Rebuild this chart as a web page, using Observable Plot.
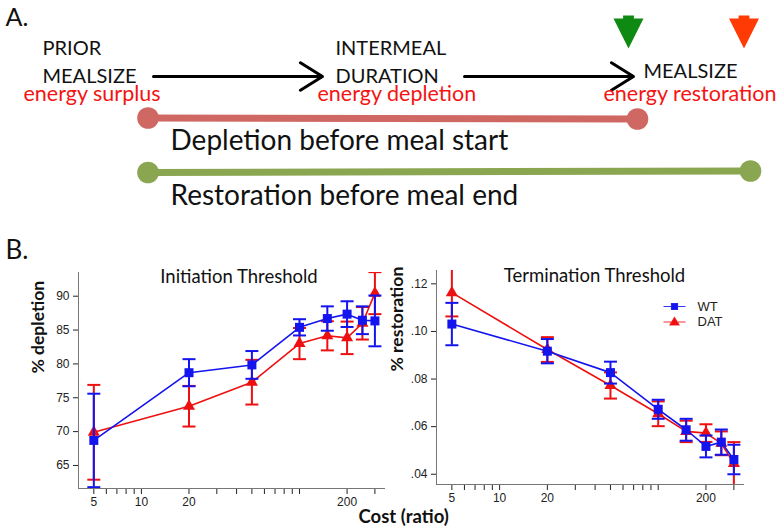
<!DOCTYPE html>
<html><head><meta charset="utf-8">
<script src="https://cdn.jsdelivr.net/npm/d3@7"></script>
<script src="https://cdn.jsdelivr.net/npm/@observablehq/plot@0.6"></script>
<style>
html,body{margin:0;padding:0;background:#fff;}
#root{position:relative;width:784px;height:532px;overflow:hidden;background:#fff;}
#root > div{position:absolute;}
</style></head><body>
<div id="root"><div id="diagram" style="left:0;top:0"></div><div id="left" style="left:0;top:230px"></div><div id="right" style="left:390px;top:230px"></div></div>
<script>
// ---------- data ----------
const cost = [5, 20, 50, 100, 150, 200, 250, 300];
const groups = ["WT", "DAT"];
const depletionWT     = [68.7, 78.7, 79.85, 85.4, 86.7, 87.35, 86.45, 86.35];
const depletionWTerr  = [6.9, 2.0, 2.05, 1.2, 1.8, 1.9, 2.05, 3.75];
const depletionDAT    = [69.9, 73.75, 77.3, 83.0, 84.15, 83.85, 86.0, 90.45];
const depletionDATerr = [7.0, 3.0, 3.3, 2.3, 2.15, 2.4, 2.4, 3.1];
const restorationWT     = [0.1031, 0.0917, 0.0827, 0.0673, 0.0587, 0.0517, 0.0535, 0.0462];
const restorationWTerr  = [0.0089, 0.0051, 0.0046, 0.0040, 0.0046, 0.0046, 0.0053, 0.0062];
const restorationDAT    = [0.1163, 0.0924, 0.0773, 0.0654, 0.0580, 0.0573, 0.0530, 0.0445];
const restorationDATerr = [0.0100, 0.0052, 0.0055, 0.0052, 0.0045, 0.0037, 0.0050, 0.0090];
const xTicks = [5, 6, 7, 8, 9, 10, 20, 30, 40, 50, 60, 70, 80, 90, 100, 200, 300];
const xTickLabels = [5, 10, 20, 200];
const depletionTicks = [65, 70, 75, 80, 85, 90];
const restorationTicks = [0.04, 0.06, 0.08, 0.10, 0.12];
const panelTitles = ["Initiation Threshold", "Termination Threshold"];
const yLabels = ["% depletion", "% restoration"];
const xLabel = "Cost (ratio)";
const panelLetters = ["A.", "B."];

const stageLabels = ["PRIOR\nMEALSIZE", "INTERMEAL\nDURATION", "MEALSIZE"];
const energyLabels = ["energy surplus", "energy depletion", "energy restoration"];
const spanLabels = ["Depletion before meal start", "Restoration before meal end"];

// ---------- layout / style (not data) ----------
const layout = {
  letterA: {x: 5, y: 25},
  stages: [{x: 42, y: 82}, {x: 335, y: 82}, {x: 643, y: 77}],
  energy: [{x: 23, y: 100}, {x: 317, y: 100}, {x: 603, y: 100}],
  flows: [{x1: 153, x2: 322, y: 76}, {x1: 464, x2: 633, y: 76}],
  spans: [{x1: 147.5, y1: 117.5, x2: 637, y2: 118.5, tx: 170, ty: 149},
          {x1: 147.5, y1: 172, x2: 750, y2: 170.5, tx: 170, ty: 204}],
  pointers: [{x: 628, y: 31.5}, {x: 743.5, y: 31.5}]
};
const spanColors = ["#cf6862", "#8ba651"];
const pointerColors = ["#0e8a12", "#ff3a05"];
const colors = {WT: "#1414ee", DAT: "#ee1010"};
const serif = "Lato, 'Open Sans', sans-serif";
const tickFont = "'Liberation Sans', Arial, sans-serif";

// custom symbols
const downArrow = {draw(ctx, size) {
  const s = Math.sqrt(size), hw = 0.5 * s, sh = 0.18 * s;
  ctx.moveTo(-sh, -0.55 * s); ctx.lineTo(sh, -0.55 * s); ctx.lineTo(sh, -0.45 * s);
  ctx.lineTo(hw, -0.45 * s); ctx.lineTo(0, 0.55 * s); ctx.lineTo(-hw, -0.45 * s);
  ctx.lineTo(-sh, -0.45 * s); ctx.closePath();
}};
const capSymbol = {draw(ctx, size) { const w = Math.sqrt(size); ctx.moveTo(-w / 2, 0); ctx.lineTo(w / 2, 0); }};
const legendSym = {
  WT: {draw(ctx) { ctx.moveTo(-11, 0); ctx.lineTo(11, 0); ctx.rect(-3, -3, 6, 6); }},
  DAT: {draw(ctx) { ctx.moveTo(-11, 0); ctx.lineTo(11, 0); ctx.moveTo(0, -4.5); ctx.lineTo(4.5, 3); ctx.lineTo(-4.5, 3); ctx.closePath(); }}
};
const rOf = px => px / Math.sqrt(Math.PI);

// ---------- diagram (A) ----------
const stageRows = stageLabels.map((t, i) => ({text: t, ...layout.stages[i]}));
const energyRows = energyLabels.map((t, i) => ({text: t, ...layout.energy[i]}));
const spanRows = spanLabels.map((t, i) => ({text: t, color: spanColors[i], ...layout.spans[i]}));
const spanEnds = spanRows.flatMap(d => [{x: d.x1, y: d.y1, color: d.color}, {x: d.x2, y: d.y2, color: d.color}]);
const pointerRows = pointerColors.map((c, i) => ({color: c, ...layout.pointers[i]}));

const diagram = Plot.plot({
  width: 784, height: 230, margin: 0,
  x: {type: "identity", axis: null}, y: {type: "identity", axis: null},
  style: {background: "transparent", overflow: "visible"},
  marks: [
    Plot.text([{text: panelLetters[0], ...layout.letterA}], {x: "x", y: "y", text: "text", textAnchor: "start", lineAnchor: "bottom", fontSize: 25, fontFamily: serif, fill: "#111"}),
    Plot.text(stageRows, {x: "x", y: "y", text: "text", textAnchor: "start", lineAnchor: "bottom", lineHeight: 1.4, fontSize: 20, fontFamily: serif, fill: "#111"}),
    Plot.arrow(layout.flows, {x1: "x1", x2: "x2", y1: "y", y2: "y", stroke: "#000", strokeWidth: 3, headLength: 13, headAngle: 64}),
    Plot.text(energyRows, {x: "x", y: "y", text: "text", textAnchor: "start", lineAnchor: "bottom", fontSize: 21.5, fontFamily: serif, fill: "#f41414"}),
    Plot.link(spanRows, {x1: "x1", y1: "y1", x2: "x2", y2: "y2", stroke: "color", strokeWidth: 7}),
    Plot.dot(spanEnds, {x: "x", y: "y", r: 10.8, fill: "color", stroke: "none"}),
    Plot.text(spanRows, {x: "tx", y: "ty", text: "text", textAnchor: "start", lineAnchor: "bottom", fontSize: 28, fontFamily: serif, fill: "#111"}),
    Plot.dot(pointerRows, {x: "x", y: "y", symbol: downArrow, r: rOf(30), fill: "color", stroke: "none"})
  ]
});
document.getElementById("diagram").append(diagram);

// ---------- panels (B) ----------
const rows = (vals, errs, g) => cost.map((c, i) => ({cost: c, group: g, value: vals[i], lo: vals[i] - errs[i], hi: vals[i] + errs[i]}));

function series(data, g) {
  const color = colors[g];
  const marker = g === "WT" ? {symbol: "square", r: rOf(9)} : {symbol: "triangle", r: 4.5};
  return [
    Plot.line(data, {x: "cost", y: "value", stroke: color, strokeWidth: 1.6}),
    Plot.ruleX(data, {x: "cost", y1: "lo", y2: "hi", stroke: color, strokeWidth: 2, clip: true}),
    Plot.dot(data, {x: "cost", y: "lo", symbol: capSymbol, r: rOf(13), stroke: color, strokeWidth: 2, fill: "none", clip: true}),
    Plot.dot(data, {x: "cost", y: "hi", symbol: capSymbol, r: rOf(13), stroke: color, strokeWidth: 2, fill: "none", clip: true}),
    Plot.dot(data, {x: "cost", y: "value", ...marker, fill: color, stroke: "none"})
  ];
}

function panel(opts) {
  const {wt, wtErr, dat, datErr, yDomain, yTicks, yFormat, title, ylabel, width, margins, titleDx, titleDy, labelDx, labelDy, extra} = opts;
  return Plot.plot({
    width, height: 302, ...margins,
    style: {background: "transparent", overflow: "visible", fontFamily: tickFont, fontSize: "12px", color: "#222"},
    x: {type: "log", domain: [4, 350], ticks: xTicks, tickFormat: d => xTickLabels.includes(d) ? String(d) : "", tickSize: 6, tickPadding: 3, label: null},
    y: {domain: yDomain, ticks: yTicks, tickFormat: yFormat, tickSize: 5, tickPadding: 4, label: null},
    marks: [
      Plot.ruleY([yDomain[0]], {stroke: "#777"}),
      Plot.ruleX([4], {stroke: "#777"}),
      Plot.text([title], {frameAnchor: "top", dx: titleDx, dy: titleDy, lineAnchor: "middle", fontSize: 18.5, fontFamily: serif, fill: "#111"}),
      Plot.text([ylabel], {frameAnchor: "left", rotate: -90, dx: labelDx, dy: labelDy, lineAnchor: "middle", fontSize: 17.5, fontWeight: "bold", fontFamily: serif, fill: "#111"}),
      ...series(rows(dat, datErr, "DAT"), "DAT"),
      ...series(rows(wt, wtErr, "WT"), "WT"),
      ...(extra || [])
    ]
  });
}

const left = panel({
  wt: depletionWT, wtErr: depletionWTerr, dat: depletionDAT, datErr: depletionDATerr,
  yDomain: [61.6, 93.5], yTicks: depletionTicks, yFormat: d => String(d),
  title: panelTitles[0], ylabel: yLabels[0], width: 390,
  margins: {marginLeft: 78, marginRight: 5, marginTop: 42, marginBottom: 44},
  titleDx: 7, titleDy: 5, labelDx: -40, labelDy: -7,
  extra: [
    Plot.text([panelLetters[1]], {frameAnchor: "top-left", dx: -73, dy: -14, textAnchor: "start", lineAnchor: "bottom", fontSize: 26, fontFamily: serif, fill: "#111"}),
    Plot.text([xLabel], {frameAnchor: "bottom-right", dx: -27, dy: 34, textAnchor: "start", lineAnchor: "bottom", fontSize: 18.5, fontWeight: "bold", fontFamily: serif, fill: "#111"})
  ]
});
document.getElementById("left").append(left);

const right = panel({
  wt: restorationWT, wtErr: restorationWTerr, dat: restorationDAT, datErr: restorationDATerr,
  yDomain: [0.0357, 0.1256], yTicks: restorationTicks, yFormat: d => d3.format(".2f")(d).replace(/^0/, ""),
  title: panelTitles[1], ylabel: yLabels[1], width: 394,
  margins: {marginLeft: 46, marginRight: 40, marginTop: 40, marginBottom: 48},
  titleDx: 4, titleDy: 6, labelDx: -39, labelDy: -6,
  extra: groups.flatMap((g, i) => [
    Plot.dot([g], {frameAnchor: "top-right", dx: -70, dy: 36 + 15.5 * i, symbol: legendSym[g], r: 5, fill: colors[g], stroke: colors[g], strokeWidth: 1.2, strokeOpacity: 0.85}),
    Plot.text([g], {frameAnchor: "top-right", dx: -47, dy: 36 + 15.5 * i, textAnchor: "start", lineAnchor: "middle", fontSize: 13, fontFamily: tickFont, fill: "#222"})
  ])
});
document.getElementById("right").append(right);
</script>
</body></html>
